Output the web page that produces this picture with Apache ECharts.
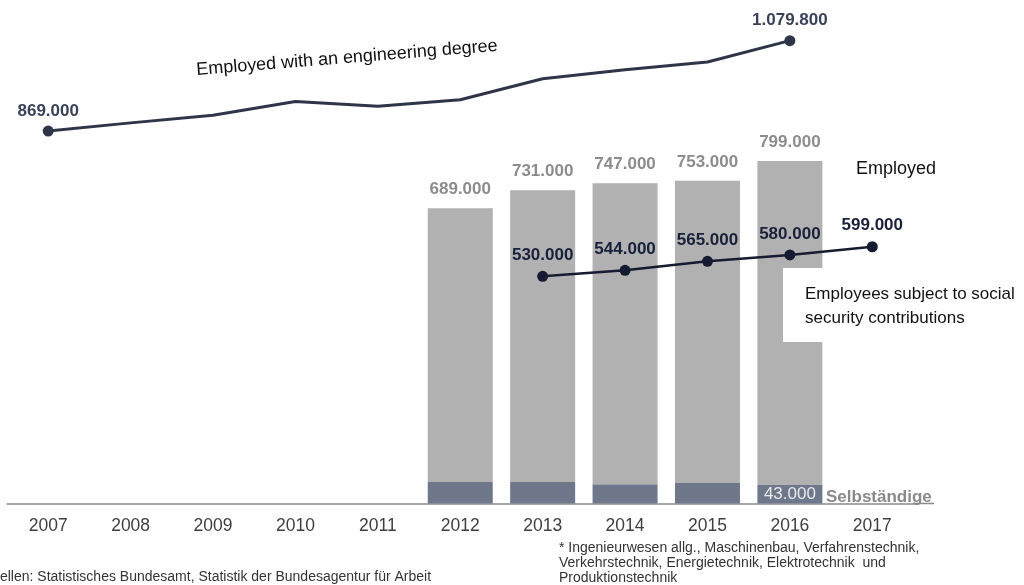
<!DOCTYPE html>
<html>
<head>
<meta charset="utf-8">
<script src="https://cdn.jsdelivr.net/npm/echarts@6/dist/echarts.min.js"></script>
<style>
  html, body { margin: 0; padding: 0; background: #ffffff; }
  #chart { width: 1024px; height: 585px; }
</style>
</head>
<body>
<div id="chart"></div>
<script>
// Years on the category axis
const years = ['2007', '2008', '2009', '2010', '2011', '2012', '2013', '2014', '2015', '2016', '2017'];

// Employed persons holding an engineering degree
const engineeringDegree = [869000, 888000, 906000, 938000, 927000, 942000, 991000, 1012000, 1030000, 1079800, null];
// Years whose engineering-degree value is written on the chart
const engineeringLabelYears = ['2007', '2016'];

// Employed engineers in total (bar height) and the self-employed part of it
const employedTotal = [null, null, null, null, null, 689000, 731000, 747000, 753000, 799000, null];
const selfEmployed  = [null, null, null, null, null, 50000, 50000, 45000, 48000, 43000, null];
// Year whose self-employed figure is written inside the bar
const selfEmployedLabelYear = '2016';

// Employees subject to social security contributions
const socialInsured = [null, null, null, null, null, null, 530000, 544000, 565000, 580000, 599000];

const FONT = '"Liberation Sans", Arial, Helvetica, sans-serif';

// German thousands separator: 869000 -> 869.000
function fmt(v) {
  return String(v).replace(/\B(?=(\d{3})+(?!\d))/g, '.');
}

const employedRest = employedTotal.map((t, i) => (t == null ? null : t - selfEmployed[i]));

const engineeringData = engineeringDegree.map((v, i) => {
  const labelled = engineeringLabelYears.indexOf(years[i]) >= 0;
  return {
    value: v,
    symbolSize: labelled ? 11 : 0,
    label: { show: labelled }
  };
});

const chart = echarts.init(document.getElementById('chart'), null, { renderer: 'canvas' });

chart.setOption({
  animation: false,
  backgroundColor: '#ffffff',
  grid: { left: 7, right: 110.5, top: 32, bottom: 81.5, containLabel: false },
  xAxis: {
    type: 'category',
    data: years,
    boundaryGap: true,
    axisLine: { show: true, lineStyle: { color: '#8a8a8a', width: 1.5 } },
    axisTick: { show: false },
    axisLabel: {
      color: '#3f3f3f',
      fontFamily: FONT,
      fontSize: 17.5,
      margin: 14
    }
  },
  yAxis: {
    type: 'value',
    min: 0,
    max: 1100000,
    show: false,
    splitLine: { show: false }
  },
  series: [
    {
      name: 'Selbständige',
      type: 'bar',
      stack: 'employed',
      barWidth: 65,
      data: selfEmployed,
      itemStyle: { color: '#6f788a' },
      label: {
        show: true,
        position: 'inside',
        fontFamily: FONT,
        fontSize: 17,
        color: '#e8e8ea',
        formatter: (p) => (years[p.dataIndex] === selfEmployedLabelYear ? fmt(p.value) : '')
      },
      z: 2
    },
    {
      name: 'Employed',
      type: 'bar',
      stack: 'employed',
      barWidth: 65,
      data: employedRest,
      itemStyle: { color: '#b1b1b1' },
      label: {
        show: true,
        position: 'top',
        distance: 10,
        fontFamily: FONT,
        fontSize: 17,
        fontWeight: 'bold',
        color: '#8c8c8c',
        formatter: (p) => fmt(employedTotal[p.dataIndex])
      },
      z: 2
    },
    {
      name: 'Employed with an engineering degree',
      type: 'line',
      data: engineeringData,
      symbol: 'circle',
      showSymbol: true,
      connectNulls: false,
      lineStyle: { color: '#2e3548', width: 3 },
      itemStyle: { color: '#2e3548' },
      label: {
        position: 'top',
        distance: 6,
        fontFamily: FONT,
        fontSize: 17,
        fontWeight: 'bold',
        color: '#3a4257',
        formatter: (p) => fmt(p.value)
      },
      z: 5
    },
    {
      name: 'Employees subject to social security contributions',
      type: 'line',
      data: socialInsured,
      symbol: 'circle',
      symbolSize: 11,
      showSymbol: true,
      lineStyle: { color: '#151b31', width: 2.5 },
      itemStyle: { color: '#151b31' },
      label: {
        show: true,
        position: 'top',
        distance: 7,
        fontFamily: FONT,
        fontSize: 17,
        fontWeight: 'bold',
        color: '#18203a',
        formatter: (p) => fmt(p.value)
      },
      z: 6
    }
  ],
  graphic: [
    // baseline continues under the "Selbständige" caption
    {
      type: 'line',
      z: 1,
      shape: { x1: 913, y1: 503.5, x2: 934, y2: 503.5 },
      style: { stroke: '#8a8a8a', lineWidth: 1.5 }
    },
    {
      type: 'text',
      x: 347,
      y: 58,
      rotation: 0.08,
      z: 10,
      style: {
        text: 'Employed with an engineering degree',
        fill: '#111111',
        font: '18px ' + FONT,
        textAlign: 'center',
        textVerticalAlign: 'middle'
      }
    },
    {
      type: 'text',
      x: 856,
      y: 169,
      z: 10,
      style: {
        text: 'Employed',
        fill: '#111111',
        font: '18px ' + FONT,
        textAlign: 'left',
        textVerticalAlign: 'middle'
      }
    },
    // caption box for the social-security line, laid over the last bar
    {
      type: 'rect',
      z: 20,
      shape: { x: 783, y: 268, width: 241, height: 74 },
      style: { fill: '#ffffff' }
    },
    {
      type: 'text',
      x: 805,
      y: 282,
      z: 21,
      style: {
        text: 'Employees subject to social\nsecurity contributions',
        fill: '#111111',
        font: '17px ' + FONT,
        lineHeight: 24,
        textAlign: 'left',
        textVerticalAlign: 'top'
      }
    },
    {
      type: 'text',
      x: 826,
      y: 497,
      z: 10,
      style: {
        text: 'Selbständige',
        fill: '#8a8a8a',
        font: 'bold 17px ' + FONT,
        textAlign: 'left',
        textVerticalAlign: 'middle'
      }
    },
    {
      type: 'text',
      x: 559,
      y: 541,
      z: 10,
      style: {
        text: '* Ingenieurwesen allg., Maschinenbau, Verfahrenstechnik,\nVerkehrstechnik, Energietechnik, Elektrotechnik  und\nProduktionstechnik',
        fill: '#333333',
        font: '14px ' + FONT,
        lineHeight: 15,
        textAlign: 'left',
        textVerticalAlign: 'top'
      }
    },
    {
      type: 'text',
      x: -18.7,
      y: 577,
      z: 10,
      style: {
        text: 'Quellen: Statistisches Bundesamt, Statistik der Bundesagentur für Arbeit',
        fill: '#333333',
        font: '14px ' + FONT,
        textAlign: 'left',
        textVerticalAlign: 'middle'
      }
    }
  ]
});
</script>
</body>
</html>
